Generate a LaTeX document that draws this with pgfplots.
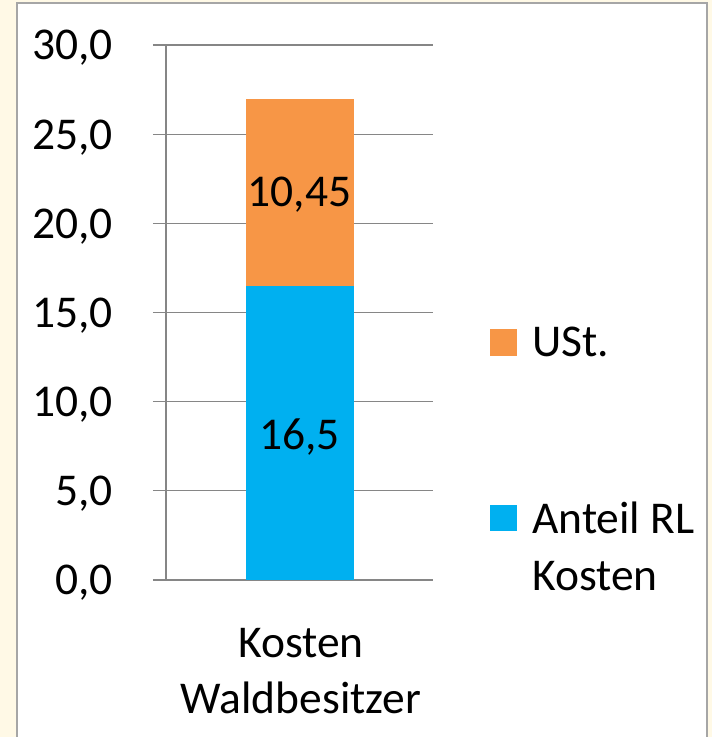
\documentclass[border=0pt]{standalone}
\usepackage{pgfplots}
\pgfplotsset{compat=1.18}
\usepackage{fontspec}
\setmainfont{Carlito}
\definecolor{blueB}{HTML}{00B0F0}
\definecolor{orangeB}{HTML}{F79646}
\definecolor{gridG}{HTML}{868686}
\definecolor{cream}{HTML}{FFF9E6}
\definecolor{frameG}{HTML}{A6A6A6}
\begin{document}
\fontsize{45.5bp}{55bp}\selectfont
\begin{tikzpicture}
\useasboundingbox (0,0) rectangle (712bp,737bp);
\fill[cream] (0,0) rectangle (712bp,737bp);
\fill[white] (17bp,-5bp) rectangle (707bp,734bp);
\draw[frameG, line width=2bp] (17bp,-5bp) -- (17bp,734bp) -- (707bp,734bp) -- (707bp,-5bp);
\begin{axis}[
  at={(166bp,157bp)}, anchor=south west,
  scale only axis, width=267bp, height=535bp,
  xmin=0, xmax=1, ymin=0, ymax=30,
  axis lines=left,
  axis line style={-, gridG, line width=1.3bp},
  ymajorgrids,
  major grid style={gridG, line width=1.3bp},
  tick style={gridG, line width=1.3bp},
  tick align=outside,
  major tick length=13bp,
  ytick={0,5,...,30},
  yticklabel={\pgfmathprintnumber[fixed,fixed zerofill,precision=1,use comma,assume math mode=true]{\tick}},
  yticklabel style={font=\fontsize{45.5bp}{50bp}\selectfont, inner sep=0pt, anchor=base east, yshift=-15bp, xshift=-40bp},
  xtick=\empty,
  ybar stacked,
  bar width=108bp,
]
\addplot[fill=blueB, draw=none] coordinates {(0.5,16.5)};
\addplot[fill=orangeB, draw=none] coordinates {(0.5,10.45)};
\draw[gridG, line width=1.3bp] (axis cs:0,0) -- ++(0,-16bp);
\draw[gridG, line width=1.3bp] (axis cs:1,0) -- ++(0,-16bp);
\coordinate (labO) at (axis cs:0.5,20.92);
\coordinate (labB) at (axis cs:0.5,7.29);
\end{axis}
\node[anchor=base, inner sep=0pt] at (labO) {10,45};
\node[anchor=base, inner sep=0pt] at (labB) {16,5};
\node[anchor=base, inner sep=0pt] at (301bp,79bp) {Kosten};
\node[anchor=base, inner sep=0pt] at (301bp,24bp) {Waldbesitzer};
\fill[orangeB] (490bp,381bp) rectangle (517bp,408bp);
\node[anchor=base west, inner sep=0pt] at (532bp,380bp) {USt.};
\fill[blueB] (490bp,206bp) rectangle (517bp,232bp);
\node[anchor=base west, inner sep=0pt] at (532bp,203bp) {Anteil RL};
\node[anchor=base west, inner sep=0pt] at (532bp,146bp) {Kosten};
\end{tikzpicture}
\end{document}
